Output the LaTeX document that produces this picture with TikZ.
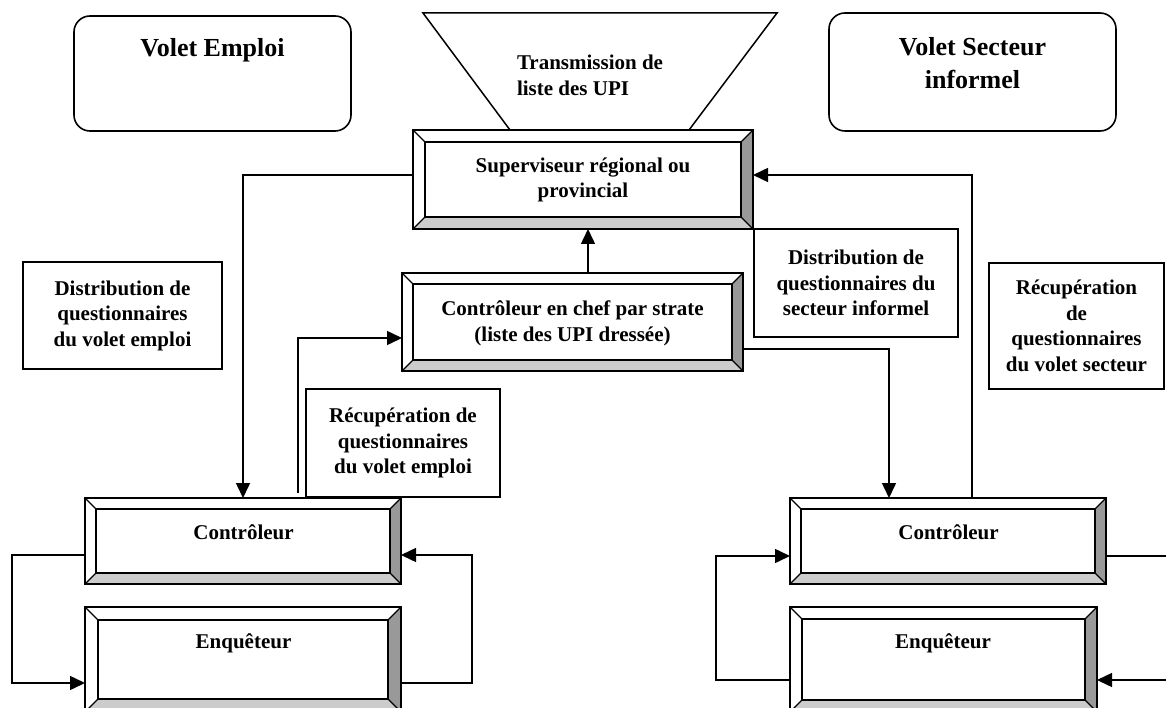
\documentclass[tikz,border=0pt]{standalone}
\usepackage{fontspec}
\setmainfont{Liberation Serif}
\usetikzlibrary{calc,arrows.meta}
\definecolor{bvdark}{HTML}{999999}
\definecolor{bvlight}{HTML}{CCCCCC}
\tikzset{
  every node/.style={outer sep=0pt, inner sep=0pt},
  txt/.style={font=\bfseries\fontsize{21}{25.5}\selectfont, align=center},
  ttl/.style={font=\bfseries\fontsize{26}{33}\selectfont, align=center},
  bvbox/.style={rectangle, draw=none},
  lblbox/.style={rectangle, draw, line width=1.5pt, txt},
  rndbox/.style={rectangle, draw, line width=1.6pt, rounded corners=16pt},
  conn/.style={line width=1.5pt},
  arr/.style={conn, -{Triangle[length=15pt,width=14pt]}},
}
\newcommand\bevelize[2]{%
  \fill[bvdark] (#1.north east) -- (#1.south east) -- ($(#1.south east)+(-#2,-#2)$) -- ($(#1.north east)+(-#2,#2)$) -- cycle;
  \fill[bvlight] (#1.south west) -- (#1.south east) -- ($(#1.south east)+(-#2,-#2)$) -- ($(#1.south west)+(#2,-#2)$) -- cycle;
  \draw[line width=1.5pt] ($(#1.north west)+(#2,#2)$) rectangle ($(#1.south east)+(-#2,-#2)$);
  \draw[line width=1.2pt] (#1.north west) -- ($(#1.north west)+(#2,#2)$)
     (#1.north east) -- ($(#1.north east)+(-#2,#2)$)
     (#1.south west) -- ($(#1.south west)+(#2,-#2)$)
     (#1.south east) -- ($(#1.south east)+(-#2,-#2)$);
  \draw[line width=1.8pt] (#1.north west) rectangle (#1.south east);
}
\begin{document}
\begin{tikzpicture}[x=1pt,y=-1pt]
\useasboundingbox (0,0) rectangle (1166,708);

% rounded title boxes
\node[rndbox, minimum width=277, minimum height=115] (ve) at (212.5,73.5) {};
\node[ttl] (veT) at (212.5,50) {Volet Emploi};
\node[rndbox, minimum width=287, minimum height=118] (vs) at (972.5,72) {};
\node[ttl] (vsT) at (972.5,63.5) {Volet Secteur\\informel};

% trapezoid
\draw[line width=1.5pt] (423,13) -- (777,13) -- (689,130) -- (510,130) -- cycle;
\node[txt, align=left, anchor=west] (trT) at (517,75.5) {Transmission de\\liste des UPI};

% bevelled boxes
\node[bvbox, minimum width=340, minimum height=99] (sup) at (583,179.5) {};
\bevelize{sup}{12}
\node[txt] (supT) at (583,180) {Superviseur régional ou\\provincial};

\node[bvbox, minimum width=341, minimum height=98] (chef) at (572.5,322) {};
\bevelize{chef}{11}
\node[txt] (chefT) at (572.5,323.5) {Contrôleur en chef par strate\\(liste des UPI dressée)};

\node[bvbox, minimum width=316, minimum height=86] (ctlL) at (243,541) {};
\bevelize{ctlL}{11}
\node[txt] (ctlLT) at (243.5,532) {Contrôleur};

\node[bvbox, minimum width=316, minimum height=105] (enqL) at (243,659.5) {};
\bevelize{enqL}{13}
\node[txt] (enqLT) at (243.5,643) {Enquêteur};

\node[bvbox, minimum width=316, minimum height=86] (ctlR) at (948,541) {};
\bevelize{ctlR}{11}
\node[txt] (ctlRT) at (948.5,532) {Contrôleur};

\node[bvbox, minimum width=307, minimum height=105] (enqR) at (943.5,659.5) {};
\bevelize{enqR}{12}
\node[txt] (enqRT) at (943,643) {Enquêteur};

% label boxes
\node[lblbox, minimum width=199, minimum height=107] (distE) at (122.5,315.5) {Distribution de\\questionnaires\\du volet emploi};
\node[lblbox, minimum width=194, minimum height=108] (recE) at (403,443) {Récupération de\\questionnaires\\du volet emploi};
\node[lblbox, minimum width=204, minimum height=108] (distS) at (856,283) {Distribution de\\questionnaires du\\secteur informel};
\node[lblbox, minimum width=175, minimum height=126] (recS) at (1076.5,326) {Récupération\\de\\questionnaires\\du volet secteur};

% helper coordinates
\coordinate (loopLL) at (12,620);
\coordinate (loopLR) at (472,620);
\coordinate (loopRL) at (716,620);
\coordinate (edgeR) at (1172,620);

% connectors
\draw[arr] ([yshift=4.5pt]sup.west) -| (ctlL.north);
\draw[arr] ([xshift=55pt,yshift=5pt]ctlL.north) |- ([yshift=-16pt]chef.west);
\draw[arr] ([xshift=15.5pt]chef.north) -- ([xshift=15.5pt]chef.north |- sup.south);
\draw[arr] ([yshift=-27pt]chef.east) -| ([xshift=-59pt]ctlR.north);
\draw[arr] ([xshift=24pt]ctlR.north) |- ([yshift=4.5pt]sup.east);

\draw[arr] ([yshift=-14pt]ctlL.west) -| (loopLL) |- ([yshift=-23.5pt]enqL.west);
\draw[arr] ([yshift=-23.5pt]enqL.east) -| (loopLR) |- ([yshift=-14pt]ctlL.east);

\draw[conn] ([yshift=-15pt]ctlR.east) coordinate (a1) -- (a1 -| edgeR);
\path ([yshift=-20.5pt]enqR.east) coordinate (b1);
\draw[arr] (b1 -| edgeR) -- (b1);
\draw[arr] ([yshift=-20.5pt]enqR.west) -| (loopRL) |- ([yshift=-15pt]ctlR.west);
\end{tikzpicture}
\end{document}
